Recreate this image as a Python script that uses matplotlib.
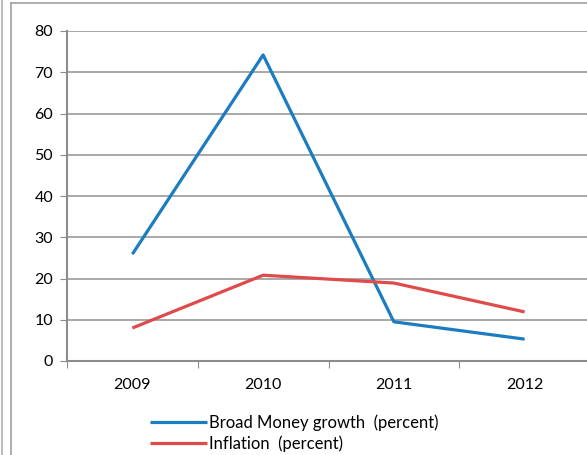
import matplotlib.pyplot as plt
from matplotlib.lines import Line2D

years = ['2009', '2010', '2011', '2012']
broad_money = [25.9, 74.2, 9.5, 5.3]
inflation = [8.0, 20.8, 18.9, 11.9]

blue = '#1c7cc0'
red = '#df4a4a'
grey = '#8c8c8c'

W, H = 587, 455
fig = plt.figure(figsize=(W / 100, H / 100), dpi=100)
plt.rcParams['font.family'] = ['Lato', 'DejaVu Sans']

# plot area runs past the right edge of the picture (cropped screenshot)
left, right, top, bottom = 67, 590, 31, 361
ax = fig.add_axes([left / W, 1 - bottom / H, (right - left) / W, (bottom - top) / H])

x = list(range(len(years)))
ax.plot(x, broad_money, color=blue, lw=2.3, label='Broad Money growth  (percent)', solid_capstyle='butt')
ax.plot(x, inflation, color=red, lw=2.3, label='Inflation  (percent)', solid_capstyle='butt')

ax.set_xlim(-0.5, len(years) - 0.5)
ax.set_ylim(0, 80)
ax.set_yticks(range(0, 81, 10))
ax.set_xticks([i - 0.5 for i in range(len(years) + 1)])
ax.set_xticklabels([])
ax.set_xticks(x, minor=True)
ax.set_xticklabels(years, minor=True)
ax.tick_params(axis='x', which='minor', length=0, pad=12, labelsize=11.5)
ax.tick_params(axis='x', which='major', length=5, color=grey, direction='out')
ax.tick_params(axis='y', length=5, color=grey, labelsize=11.5, pad=5)

ax.grid(axis='y', color='#9a9a9a', lw=1.2)
ax.set_axisbelow(True)
for s in ['top', 'right']:
    ax.spines[s].set_visible(False)
for s in ['left', 'bottom']:
    ax.spines[s].set_color(grey)
    ax.spines[s].set_linewidth(1.5)

ax.legend(loc='upper left', bbox_to_anchor=(150 / W, 1 - 414 / H), bbox_transform=fig.transFigure,
          frameon=False, fontsize=12, handlelength=3.4, handletextpad=0.15, labelspacing=0.3,
          borderpad=0, borderaxespad=0)

# outer frame of the screenshot
fig.add_artist(Line2D([1.5 / W, 1.5 / W], [0, 1], color='#b0b0b0', lw=1.2))
fig.add_artist(Line2D([10.5 / W, 10.5 / W], [0, 1 - 2.5 / H], color='#a0a0a0', lw=1.2))
fig.add_artist(Line2D([10.5 / W, 1], [1 - 2.5 / H, 1 - 2.5 / H], color='#a0a0a0', lw=1.2))

fig.savefig('out.png', dpi=100)
